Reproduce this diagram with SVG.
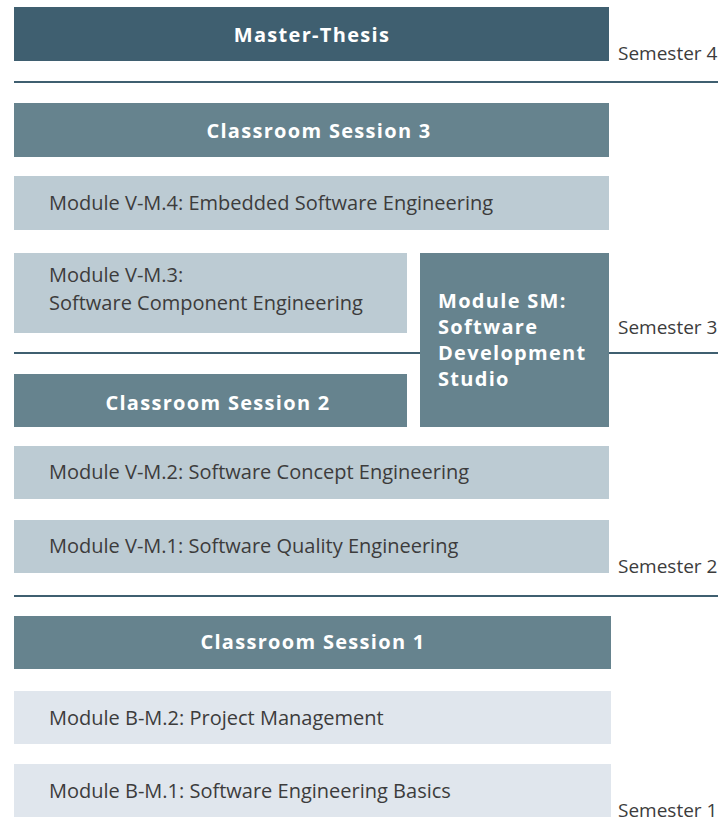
<svg xmlns="http://www.w3.org/2000/svg" width="724" height="838" viewBox="0 0 724 838">
<style>
.dark{fill:#3f5f70}
.mid{fill:#66838e}
.light{fill:#bccbd3}
.pale{fill:#e0e6ed}
.hd{font-family:"Open Sans","Liberation Sans",sans-serif;font-weight:bold;font-size:20px;fill:#ffffff;letter-spacing:1.3px}
.tx{font-family:"Open Sans","Liberation Sans",sans-serif;font-size:20px;fill:#3c3c3c}
.sem{font-family:"Open Sans","Liberation Sans",sans-serif;font-size:19px;fill:#3c3c3c}
.sep{stroke:#3f5f70;stroke-width:2;fill:none}
</style>
<rect width="724" height="838" fill="#ffffff"/>
<g id="separators">
<line class="sep" x1="14" y1="82" x2="718" y2="82"/>
<line class="sep" x1="14" y1="353" x2="420" y2="353"/>
<line class="sep" x1="609" y1="353" x2="718" y2="353"/>
<line class="sep" x1="14" y1="596" x2="718" y2="596"/>
</g>
<g id="master-thesis"><rect class="dark" x="14" y="7" width="595" height="54"/><text class="hd" x="312" y="42" text-anchor="middle">Master-Thesis</text></g>
<g id="sem4"><text class="sem" x="618" y="60">Semester 4</text></g>
<g id="cs3"><rect class="mid" x="14" y="103" width="595" height="54"/><text class="hd" x="319" y="138" text-anchor="middle">Classroom Session 3</text></g>
<g id="vm4"><rect class="light" x="14" y="176" width="595" height="54"/><text class="tx" x="49" y="210">Module V-M.4: Embedded Software Engineering</text></g>
<g id="vm3"><rect class="light" x="14" y="253" width="393" height="80"/><text class="tx" x="49" y="282">Module V-M.3:</text><text class="tx" x="49" y="310">Software Component Engineering</text></g>
<g id="sm"><rect class="mid" x="420" y="253" width="189" height="174"/><text class="hd" x="438" y="308">Module SM:</text><text class="hd" x="438" y="334">Software</text><text class="hd" x="438" y="360">Development</text><text class="hd" x="438" y="386">Studio</text></g>
<g id="sem3"><text class="sem" x="618" y="334">Semester 3</text></g>
<g id="cs2"><rect class="mid" x="14" y="374" width="393" height="53"/><text class="hd" x="218" y="410" text-anchor="middle">Classroom Session 2</text></g>
<g id="vm2"><rect class="light" x="14" y="446" width="595" height="53"/><text class="tx" x="49" y="479">Module V-M.2: Software Concept Engineering</text></g>
<g id="vm1"><rect class="light" x="14" y="520" width="595" height="53"/><text class="tx" x="49" y="553">Module V-M.1: Software Quality Engineering</text></g>
<g id="sem2"><text class="sem" x="618" y="573">Semester 2</text></g>
<g id="cs1"><rect class="mid" x="14" y="616" width="597" height="53"/><text class="hd" x="313" y="649" text-anchor="middle">Classroom Session 1</text></g>
<g id="bm2"><rect class="pale" x="14" y="691" width="597" height="53"/><text class="tx" x="49" y="725">Module B-M.2: Project Management</text></g>
<g id="bm1"><rect class="pale" x="14" y="764" width="597" height="53"/><text class="tx" x="49" y="798">Module B-M.1: Software Engineering Basics</text></g>
<g id="sem1"><text class="sem" x="618" y="817">Semester 1</text></g>
</svg>
